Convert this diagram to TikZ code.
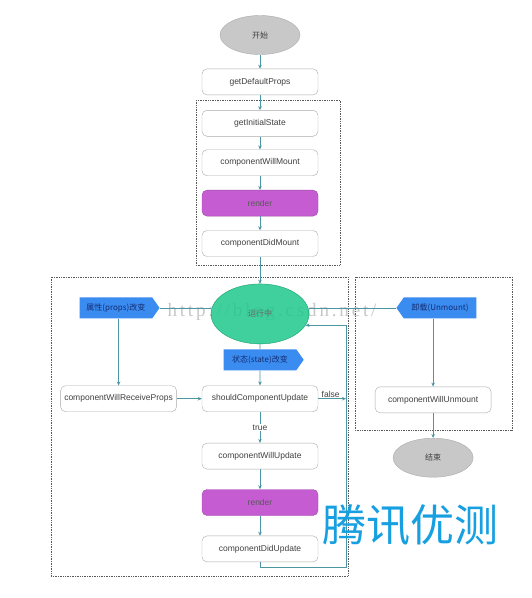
\documentclass[tikz,border=0pt]{standalone}
\usepackage{fontspec}
\setmainfont{Liberation Sans}
\newfontfamily\cjk{Noto Sans CJK SC}
\newfontfamily\wmfont[LetterSpace=15]{Liberation Serif}
\usetikzlibrary{positioning,shapes.geometric,shapes.symbols,arrows.meta}
\definecolor{linec}{RGB}{75,150,162}
\definecolor{boxline}{RGB}{170,170,170}
\definecolor{termfill}{RGB}{200,200,200}
\definecolor{runfill}{RGB}{30,200,140}
\definecolor{renderfill}{RGB}{198,92,210}
\definecolor{tagfill}{RGB}{58,140,240}
\definecolor{tagtext}{RGB}{20,45,115}
\definecolor{wmblue}{RGB}{22,160,225}
\tikzset{
    proc/.style={rectangle, rounded corners=5pt, minimum width=116pt, minimum height=26pt, text centered, draw=boxline, fill=white, text=black!75, font=\fontsize{8.5}{10}\selectfont},
    rendbox/.style={proc, fill=renderfill, draw=renderfill!80!black, text=black!65},
    term/.style={ellipse, minimum width=80pt, minimum height=39pt, draw=boxline, fill=termfill, text=black!75, font=\cjk\fontsize{8}{10}\selectfont},
    runstate/.style={ellipse, minimum width=98pt, minimum height=60pt, draw=runfill!80!black, fill=runfill, fill opacity=0.85, text opacity=1, text=black!60, font=\cjk\fontsize{8}{10}\selectfont},
    tag/.style={signal, signal from=nowhere, signal pointer angle=110, minimum width=80pt, minimum height=21pt, inner sep=1pt, fill=tagfill, text=tagtext, font=\cjk\fontsize{8}{10}\selectfont},
    grp/.style={densely dotted, draw=black!65, line width=0.7pt},
    conn/.style={draw=linec, line width=0.7pt},
    arr/.style={conn, -{Stealth[length=4pt,width=3.5pt]}}
    }
\begin{document}
\begin{tikzpicture}[x=1pt,y=-1pt,node distance=14pt]
    \useasboundingbox[fill=white] (0,0) rectangle (531,598);
    % watermark behind the chart
    \node[text=black!22, font=\wmfont\fontsize{19}{22}\selectfont, inner sep=0pt] (wmurl) at (272,312) {http://blog.csdn.net/};
    % mounting
    \node[term] (start) at (260,35) {开始};
    \node[proc, below=of start] (defprops) {getDefaultProps};
    \node[proc, below=15pt of defprops] (initstate) {getInitialState};
    \node[proc, below=13pt of initstate] (willmount) {componentWillMount};
    \node[rendbox, below=of willmount] (render1) {render};
    \node[proc, below=of render1] (didmount) {componentDidMount};
    % running
    \node[runstate, below=27pt of didmount] (run) {运行中};
    \node[tag, signal to=east, left=51pt of run, yshift=6pt] (propschg) {属性(props)改变};
    \node[tag, signal to=east, below=5pt of run] (statechg) {状态(state)改变};
    \node[proc, below=15pt of statechg] (scu) {shouldComponentUpdate};
    \node[proc, left=25pt of scu] (wrprops) {componentWillReceiveProps};
    \node[proc, below=31pt of scu] (wupdate) {componentWillUpdate};
    \node[rendbox, below=20pt of wupdate] (render2) {render};
    \node[proc, below=20pt of render2] (dupdate) {componentDidUpdate};
    % unmounting
    \node[tag, signal to=west, right=87pt of run, yshift=6pt] (unmount) {卸载(Unmount)};
    \node[proc, below=68pt of unmount, xshift=-7pt] (wunmount) {componentWillUnmount};
    \node[term, below=25pt of wunmount] (finish) {结束};
    \coordinate (loopc) at (346,567);

    % groups
    \draw[grp] (196,100) rectangle (340,265);
    \draw[grp] (51,277) rectangle (348,576);
    \draw[grp] (355,277) rectangle (512,430);

    \draw[arr] (start) -- (defprops);
    \draw[arr] (defprops) -- (initstate);
    \draw[arr] (initstate) -- (willmount);
    \draw[arr] (willmount) -- (render1);
    \draw[arr] (render1) -- (didmount);
    \draw[arr] (didmount) -- (run);
    \draw[conn] (propschg.east) -- (propschg.east -| run.west);
    \draw[arr] (propschg.south -| wrprops.north) -- (wrprops.north);
    \draw[conn] (run) -- (statechg);
    \draw[arr] (statechg) -- (scu);
    \draw[arr] (wrprops) -- (scu);
    \draw[arr] (scu.east) -- (scu.east -| loopc) node[pos=0.45, above, inner sep=1pt, text=black!75, font=\fontsize{8.5}{10}\selectfont] {false};
    \draw[arr] (scu) -- node[fill=white, inner sep=1pt, text=black!75, font=\fontsize{8.5}{10}\selectfont] {true} (wupdate);
    \draw[arr] (wupdate) -- (render2);
    \draw[arr] (render2) -- (dupdate);
    \draw[arr] (dupdate.south) |- (loopc) -- (loopc |- run.-14) -- (run.-14);
    \draw[conn] (unmount.west) -- (unmount.west -| run.east);
    \draw[arr] (unmount.south -| wunmount.north) -- (wunmount.north);
    \draw[arr] (wunmount) -- (finish);

    % watermark on top
    \node[text=wmblue, font=\cjk\fontsize{44}{48}\selectfont, inner sep=0pt] (wmname) at (410,525) {腾讯优测};
\end{tikzpicture}
\end{document}
